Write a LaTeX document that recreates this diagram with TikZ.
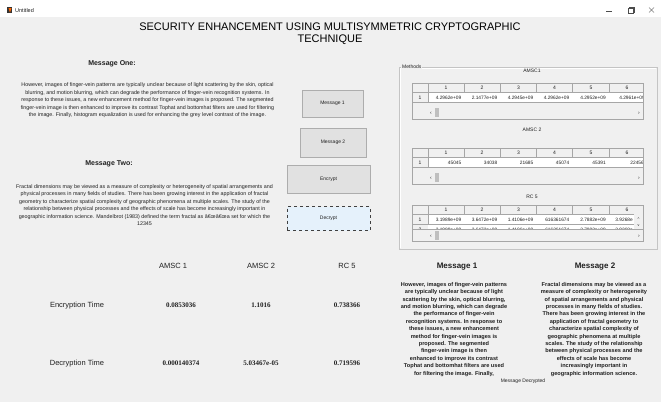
\documentclass[tikz,border=0pt]{standalone}
\usepackage{fontspec}
\setmainfont{Liberation Sans}
\newfontfamily\valfont{Liberation Serif}
\definecolor{winbg}{HTML}{F0F0F0}
\definecolor{btnfill}{HTML}{E1E1E1}
\definecolor{btnedge}{HTML}{ADADAD}
\definecolor{selfill}{HTML}{E5F1FB}
\definecolor{panline}{HTML}{C4C4C4}
\definecolor{txtgray}{HTML}{202020}
\begin{document}
\begin{tikzpicture}[x=1pt,y=-1pt,
	every node/.style={inner sep=0pt, text=txtgray},
	para/.style={font=\fontsize{5.35}{8}\selectfont, anchor=base},
	boldpara/.style={font=\bfseries\fontsize{5.6}{7.4}\selectfont, anchor=base},
	button/.style={draw=btnedge, fill=btnfill},
	tblline/.style={draw=black!35, line width=0.4pt},
	colhead/.style={font=\fontsize{5}{6}\selectfont, anchor=base},
	cell/.style={font=\fontsize{4.8}{6}\selectfont, anchor=base east},
	timehead/.style={font=\fontsize{7.5}{9}\selectfont, anchor=base},
	timeval/.style={font=\valfont\bfseries\fontsize{7}{8}\selectfont, anchor=base}]
	\useasboundingbox (0,0) rectangle (661,402);
	\fill[winbg] (0,0) rectangle (661,402);
	%
	% title bar
	%
	\fill[white] (0,0) rectangle (661,17);
	\fill[black!80] (7,7) rectangle (12,13);
	\fill[orange!80!red] (8.5,8) -- (11.5,8) -- (10,12.5) -- cycle;
	\node[font=\fontsize{5.5}{6}\selectfont, anchor=base west] (wintitle) at (15,12) {Untitled};
	\draw[black!70] (606,11) -- (612,11);
	\draw[black!70] (628,8.5) rectangle (633,13.5);
	\draw[black!70] (629.5,8.5) -- (629.5,7) -- (634.5,7) -- (634.5,12) -- (633,12);
	\draw[black!50] (649,7.5) -- (654,12.5) (649,12.5) -- (654,7.5);
	%
	% heading
	%
	\node[font=\fontsize{11}{12}\selectfont, align=center, text=black] (heading) at (330,34)
		{SECURITY ENHANCEMENT USING MULTISYMMETRIC CRYPTOGRAPHIC\\TECHNIQUE};
	%
	% messages
	%
	\node[font=\bfseries\fontsize{7}{8}\selectfont] (msgone) at (112,64) {Message One:};
	\foreach \ln [count=\i] in {{However, images of finger-vein patterns are typically unclear because of light scattering by the skin, optical},
		{blurring, and motion blurring, which can degrade the performance of finger-vein recognition systems. In},
		{response to these issues, a new enhancement method for finger-vein images is proposed. The segmented},
		{finger-vein image is then enhanced to improve its contrast Tophat and bottomhat filters are used for filtering},
		{the image. Finally, histogram equalization is used for enhancing the grey level contrast of the image.}}
		\node[para] at (147.5,86.8+7.5*\i-7.5) {\ln};
	\node[font=\bfseries\fontsize{7}{8}\selectfont] (msgtwo) at (109,164) {Message Two:};
	\foreach \ln [count=\i] in {{Fractal dimensions may be viewed as a measure of complexity or heterogeneity of spatial arrangements and},
		{physical processes in many fields of studies. There has been growing interest in the application of fractal},
		{geometry to characterize spatial complexity of geographic phenomena at multiple scales. The study of the},
		{relationship between physical processes and the effects of scale has become increasingly important in},
		{geographic information science. Mandelbrot (1983) defined the term fractal as â€œâ€œa set for which the},
		{12345}}
		\node[para] at (144.5,188.5+7.45*\i-7.45) {\ln};
	%
	% buttons
	%
	\node[button, minimum width=61, minimum height=27, font=\fontsize{5}{6}\selectfont] (btnone) at (332.5,103.5) {Message 1};
	\node[button, minimum width=66, minimum height=29, font=\fontsize{5}{6}\selectfont] (btntwo) at (333,142.5) {Message 2};
	\node[button, minimum width=83, minimum height=28, font=\fontsize{5}{6}\selectfont] (btnenc) at (328.5,179) {Encrypt};
	\node[draw=black!75, dashed, fill=selfill, minimum width=83, minimum height=24, font=\fontsize{5}{6}\selectfont] (btndec) at (328.5,218.5) {Decrypt};
	%
	% methods panel
	%
	\draw[panline] (399,67) rectangle (657,249);
	\draw[white] (400,68) -- (656,68) (400,68) -- (400,248);
	\node[fill=winbg, inner xsep=1pt, font=\fontsize{5}{6}\selectfont, anchor=west] (methods) at (401,67) {Methods};
	\foreach \T/\nm/\ly in {83/AMSC1/71, 148/AMSC 2/130, 205/RC 5/197}{
		\node[colhead] at (532,\ly+1.7) {\nm};
		\fill[winbg] (412,\T) rectangle (643,\T+36);
		\fill[white] (428,\T+9) rectangle (643,\T+19);
		\draw[tblline] (412,\T) rectangle (643,\T+36);
		\draw[tblline] (412,\T+9) -- (643,\T+9);
		\draw[tblline] (412,\T+19) -- (643,\T+19);
		\draw[tblline] (428,\T) -- (428,\T+19);
		\foreach \c in {464,500.5,536.5,572.5,609}
			\draw[tblline] (\c,\T) -- (\c,\T+9);
		\foreach \cx/\k in {446/1,482/2,518.5/3,554.5/4,591/5,627/6}
			\node[colhead] at (\cx,\T+6.5) {\k};
		\node[colhead] at (420,\T+16) {1};
		\node[colhead] at (431,\T+31) {‹};
		\node[colhead] at (639,\T+31) {›};
		\fill[black!25] (435,\T+25) rectangle (438.5,\T+34);
	}
	% AMSC1 values
	\begin{scope}
		\clip (428,83) rectangle (642,119);
		\foreach \cx/\v in {461.5/4.2962e+09,497.5/2.1477e+09,533.5/4.2945e+09,569.5/4.2962e+09,606/4.2952e+09,645/4.2961e+09}
			\node[cell] at (\cx,99.7) {\v};
	\end{scope}
	% AMSC 2 values
	\begin{scope}
		\clip (428,148) rectangle (642,184);
		\foreach \cx/\v in {461.5/45045,497.5/34038,533.5/21685,569.5/45074,606/45391,644/22456}
			\node[cell] at (\cx,164.7) {\v};
	\end{scope}
	% RC 5 values
	\begin{scope}
		\clip (412,205) rectangle (634,230);
		\fill[white] (428,224) rectangle (634,230);
		\draw[tblline] (412,224) -- (634,224);
		\node[colhead] at (420,231.5) {2};
		\foreach \cx/\v in {461.5/3.1989e+09,497.5/3.6472e+09,533.5/1.4106e+09,569.5/616361674,606/2.7882e+09,633/3.9268e}{
			\node[cell] at (\cx,221.7) {\v};
			\node[cell] at (\cx,231) {\v};
		}
	\end{scope}
	\fill[winbg] (412.3,229) rectangle (642.7,240.7);
	\draw[tblline] (412,229) -- (643,229);
	\draw[tblline] (412,205) rectangle (643,241);
	\fill[winbg] (634,214.3) rectangle (642.7,228.8);
	\node[font=\fontsize{4}{5}\selectfont, anchor=base] (vup) at (638.5,220.5) {\textasciicircum};
	\node[font=\fontsize{3.6}{5}\selectfont, anchor=base] (vdown) at (638.5,226.6) {v};
	\node[colhead] at (431,237) {‹};
	\node[colhead] at (639,237) {›};
	\fill[black!25] (435,231) rectangle (438.5,240);
	%
	% timing results
	%
	\foreach \cx/\h in {173/AMSC 1,261/AMSC 2,347/RC 5}
		\node[timehead] at (\cx,268.5) {\h};
	\node[timehead] (enctime) at (77,307.5) {Encryption Time};
	\node[timehead] (dectime) at (77,365.5) {Decryption Time};
	\foreach \cx/\v/\w in {181/0.0853036/0.000140374,261/1.1016/5.03467e-05,347/0.738366/0.719596}{
		\node[timeval] at (\cx,307.4) {\v};
		\node[timeval] at (\cx,365.4) {\w};
	}
	%
	% decrypted messages
	%
	\node[font=\bfseries\fontsize{8}{9}\selectfont] (outone) at (457,267) {Message 1};
	\node[font=\bfseries\fontsize{8}{9}\selectfont] (outtwo) at (595,267) {Message 2};
	\begin{scope}
		\clip (380,276) rectangle (661,376);
		\foreach \ln [count=\i] in {{However, images of finger-vein patterns},{are typically unclear because of light},
			{scattering by the skin, optical blurring,},{and motion blurring, which can degrade},
			{the performance of finger-vein},{recognition systems. In response to},
			{these issues, a new enhancement},{method for finger-vein images is},
			{proposed. The segmented},{finger-vein image is then},
			{enhanced to improve its contrast},{Tophat and bottomhat filters are used},
			{for filtering the image. Finally,}}
			\node[boldpara] at (454,286.2+7.4*\i-7.4) {\ln};
		\foreach \ln [count=\i] in {{Fractal dimensions may be viewed as a},{measure of complexity or heterogeneity},
			{of spatial arrangements and physical},{processes in many fields of studies.},
			{There has been growing interest in the},{application of fractal geometry to},
			{characterize spatial complexity of},{geographic phenomena at multiple},
			{scales. The study of the relationship},{between physical processes and the},
			{effects of scale has become},{increasingly important in},
			{geographic information science.}}
			\node[boldpara] at (594,286.2+7.4*\i-7.4) {\ln};
	\end{scope}
	\node[font=\fontsize{5}{6}\selectfont] (status) at (523,381) {Message Decrypted};
\end{tikzpicture}
\end{document}
